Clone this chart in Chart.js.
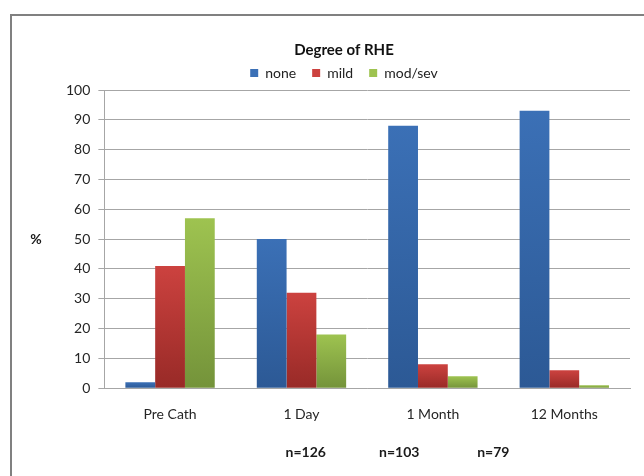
<!DOCTYPE html>
<html>
<head>
<meta charset="utf-8">
<script src="https://cdn.jsdelivr.net/npm/chart.js@4"></script>
<style>
  html, body { margin: 0; padding: 0; background: #fff; overflow: hidden; }
  canvas { display: block; }
</style>
</head>
<body>
<canvas id="chart" width="644" height="476"></canvas>
<script>
// data
const categories = ['Pre Cath', '1 Day', '1 Month', '12 Months'];
const noneValues = [2, 50, 88, 93];
const mildValues = [41, 32, 8, 6];
const modSevValues = [57, 18, 4, 1];
const sampleSizes = ['n=126', 'n=103', 'n=79'];

const FONT = 'Lato, "Open Sans", sans-serif';

// top / bottom colours of each series gradient
const shades = {
  none: ['#3b70b6', '#2c5995'],
  mild: ['#cc423f', '#982a27'],
  mod: ['#9ec350', '#74933a']
};

function barFill(pair) {
  return function (ctx) {
    const chart = ctx.chart;
    if (!chart.chartArea || !ctx.parsed) return pair[0];
    const y = chart.scales.y;
    const top = y.getPixelForValue(ctx.parsed.y);
    const bottom = y.getPixelForValue(0);
    if (!isFinite(top) || bottom - top < 1) return pair[1];
    const g = chart.ctx.createLinearGradient(0, top, 0, bottom);
    g.addColorStop(0, pair[0]);
    g.addColorStop(1, pair[1]);
    return g;
  };
}

// frame, "%" label and the n= notes
const extras = {
  id: 'extras',
  afterDraw(chart) {
    const c = chart.ctx;
    const a = chart.chartArea;
    c.save();
    c.strokeStyle = '#808080';
    c.lineWidth = 2;
    c.beginPath();
    c.moveTo(11, chart.height + 2);
    c.lineTo(11, 15);
    c.lineTo(chart.width + 2, 15);
    c.stroke();

    c.fillStyle = '#1a1a1a';
    c.font = 'bold 14px ' + FONT;
    c.textAlign = 'center';
    c.textBaseline = 'middle';
    c.fillText('%', 36, (a.top + a.bottom) / 2);

    const w = a.right - a.left;
    const spots = [0.383, 0.561, 0.74];
    sampleSizes.forEach(function (t, i) {
      c.fillText(t, a.left + w * spots[i], 452);
    });
    c.restore();
  }
};

new Chart(document.getElementById('chart'), {
  type: 'bar',
  data: {
    labels: categories,
    datasets: [
      { label: 'none', data: noneValues, backgroundColor: barFill(shades.none) },
      { label: 'mild', data: mildValues, backgroundColor: barFill(shades.mild) },
      { label: 'mod/sev', data: modSevValues, backgroundColor: barFill(shades.mod) }
    ]
  },
  options: {
    responsive: false,
    animation: false,
    layout: { padding: { left: 58, top: 41, right: 14, bottom: 43 } },
    datasets: {
      bar: { categoryPercentage: 0.68, barPercentage: 1, borderWidth: 0 }
    },
    plugins: {
      title: {
        display: true,
        text: 'Degree of RHE',
        color: '#111',
        font: { family: FONT, size: 15, weight: 'bold' },
        padding: { top: 0, bottom: -9 }
      },
      legend: {
        position: 'top',
        labels: {
          color: '#222',
          font: { family: FONT, size: 14 },
          boxWidth: 8,
          boxHeight: 8,
          padding: 16
        }
      },
      tooltip: { enabled: false }
    },
    scales: {
      x: {
        grid: { display: false },
        border: { display: true, color: '#a6a6a6', width: 1 },
        ticks: { color: '#262626', font: { family: FONT, size: 14 }, padding: 10 }
      },
      y: {
        min: 0,
        max: 100,
        ticks: { stepSize: 10, color: '#262626', font: { family: FONT, size: 14 }, padding: 8 },
        grid: { color: '#a6a6a6', tickLength: 6, drawTicks: true },
        border: { display: true, color: '#a6a6a6', width: 1 }
      }
    }
  },
  plugins: [extras]
});
</script>
</body>
</html>
